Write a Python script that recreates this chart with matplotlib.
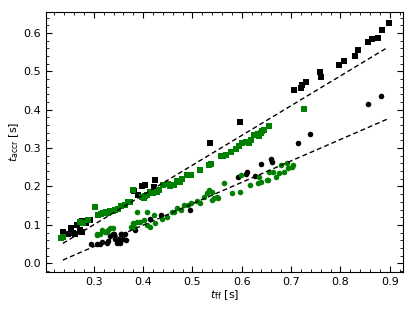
import numpy as np
import matplotlib
matplotlib.use("Agg")
import matplotlib.pyplot as plt
from matplotlib.ticker import MultipleLocator

# Black squares (upper black series)
bs_x = [0.237, 0.244, 0.253, 0.258, 0.265, 0.271, 0.275, 0.285, 0.292, 0.248, 0.261, 0.275,
        0.382, 0.389, 0.397, 0.403, 0.421, 0.424, 0.535, 0.596,
        0.706, 0.720, 0.722, 0.731, 0.758, 0.761, 0.797, 0.808, 0.829, 0.835,
        0.857, 0.865, 0.876, 0.885, 0.898]
bs_y = [0.082, 0.077, 0.091, 0.079, 0.099, 0.086, 0.110, 0.104, 0.112, 0.077, 0.077, 0.082,
        0.189, 0.178, 0.201, 0.204, 0.198, 0.217, 0.312, 0.369,
        0.452, 0.456, 0.465, 0.473, 0.498, 0.486, 0.517, 0.526, 0.541, 0.555,
        0.576, 0.585, 0.587, 0.608, 0.626]

# Black circles (lower black series)
bc_x = [0.295, 0.306, 0.312, 0.316, 0.326, 0.329, 0.333, 0.339, 0.341, 0.343, 0.346, 0.350,
        0.353, 0.355, 0.356, 0.360, 0.363, 0.365, 0.384, 0.414, 0.437, 0.494,
        0.592, 0.609, 0.611, 0.627, 0.640, 0.659, 0.661, 0.714, 0.739, 0.857, 0.882]
bc_y = [0.050, 0.051, 0.050, 0.056, 0.053, 0.058, 0.071, 0.077, 0.077, 0.062, 0.053, 0.064,
        0.053, 0.077, 0.077, 0.064, 0.077, 0.060, 0.086, 0.114, 0.125, 0.138,
        0.225, 0.232, 0.238, 0.228, 0.258, 0.271, 0.265, 0.314, 0.336, 0.416, 0.437]

# Green squares (upper green series)
gs_x = [0.234, 0.237, 0.271, 0.278, 0.288, 0.302, 0.309, 0.314, 0.319, 0.325, 0.329, 0.333,
        0.338, 0.343, 0.348, 0.356, 0.363, 0.370, 0.373, 0.380, 0.397, 0.401, 0.404, 0.408,
        0.414, 0.420, 0.428, 0.433, 0.441, 0.450, 0.455, 0.462, 0.469, 0.474, 0.478, 0.489,
        0.496, 0.516, 0.533, 0.537, 0.557, 0.561, 0.567, 0.578, 0.588, 0.594, 0.601, 0.608,
        0.615, 0.618, 0.625, 0.632, 0.635, 0.639, 0.642, 0.645, 0.656, 0.726]
gs_y = [0.067, 0.069, 0.108, 0.104, 0.112, 0.147, 0.125, 0.128, 0.131, 0.134, 0.132, 0.137,
        0.136, 0.140, 0.141, 0.149, 0.152, 0.160, 0.160, 0.191, 0.173, 0.169, 0.176, 0.178,
        0.186, 0.184, 0.186, 0.192, 0.204, 0.206, 0.202, 0.204, 0.215, 0.212, 0.220, 0.230,
        0.230, 0.243, 0.256, 0.258, 0.279, 0.279, 0.282, 0.291, 0.297, 0.305, 0.312, 0.317,
        0.312, 0.321, 0.334, 0.337, 0.332, 0.340, 0.345, 0.347, 0.358, 0.401]

# Green circles (lower green series)
gc_x = [0.306, 0.307, 0.312, 0.316, 0.322, 0.326, 0.329, 0.333, 0.339, 0.376, 0.377, 0.380,
        0.382, 0.387, 0.387, 0.394, 0.401, 0.407, 0.408, 0.414, 0.421, 0.424, 0.438, 0.448,
        0.459, 0.462, 0.469, 0.476, 0.482, 0.490, 0.496, 0.510, 0.516, 0.523, 0.530, 0.533,
        0.540, 0.540, 0.544, 0.550, 0.552, 0.564, 0.581, 0.596, 0.598, 0.616, 0.632, 0.635,
        0.639, 0.652, 0.653, 0.656, 0.663, 0.669, 0.676, 0.680, 0.686, 0.692, 0.693, 0.702, 0.703]
gc_y = [0.077, 0.073, 0.077, 0.086, 0.082, 0.082, 0.086, 0.093, 0.091, 0.095, 0.095, 0.104,
        0.095, 0.134, 0.108, 0.108, 0.112, 0.134, 0.099, 0.095, 0.125, 0.104, 0.116, 0.121,
        0.134, 0.134, 0.143, 0.138, 0.151, 0.151, 0.156, 0.163, 0.157, 0.173, 0.182, 0.191,
        0.186, 0.164, 0.171, 0.173, 0.171, 0.208, 0.182, 0.186, 0.230, 0.204, 0.208, 0.225,
        0.212, 0.218, 0.217, 0.238, 0.238, 0.225, 0.234, 0.256, 0.238, 0.260, 0.247, 0.251, 0.256]

# Dashed fit lines: (slope, intercept) and x-range
fit_upper = (0.775, -0.132)
fit_lower = (0.558, -0.124)
fit_xrange = (0.237, 0.896)

fig = plt.figure(figsize=(4.15, 3.12), dpi=100)
ax = fig.add_axes([0.111, 0.128, 0.860, 0.834])

green = "green"
ms = 16
ax.scatter(bs_x, bs_y, marker="s", s=ms, color="black", linewidths=0, zorder=3)
ax.scatter(bc_x, bc_y, marker="o", s=ms, color="black", linewidths=0, zorder=3)
ax.scatter(gs_x, gs_y, marker="s", s=ms, color=green, linewidths=0, zorder=3)
ax.scatter(gc_x, gc_y, marker="o", s=ms, color=green, linewidths=0, zorder=3)

xl = np.array(fit_xrange)
for m, b in (fit_upper, fit_lower):
    ax.plot(xl, m * xl + b, color="black", ls="--", lw=1.0, dashes=(3.5, 2.2), zorder=4)

ax.set_xlim(0.203, 0.927)
ax.set_ylim(-0.023, 0.655)
ax.xaxis.set_major_locator(MultipleLocator(0.1))
ax.xaxis.set_minor_locator(MultipleLocator(0.02))
ax.yaxis.set_major_locator(MultipleLocator(0.1))
ax.yaxis.set_minor_locator(MultipleLocator(0.02))
ax.tick_params(which="both", direction="in", top=True, right=True, labelsize=8)
ax.tick_params(which="major", length=4, width=0.8)
ax.tick_params(which="minor", length=2, width=0.6)
ax.set_xlabel(r"$t_{\rm ff}$ [s]", fontsize=8, labelpad=1)
ax.set_ylabel(r"$t_{\rm accr}$ [s]", fontsize=8, labelpad=2)

fig.savefig("out.png", dpi=100)
